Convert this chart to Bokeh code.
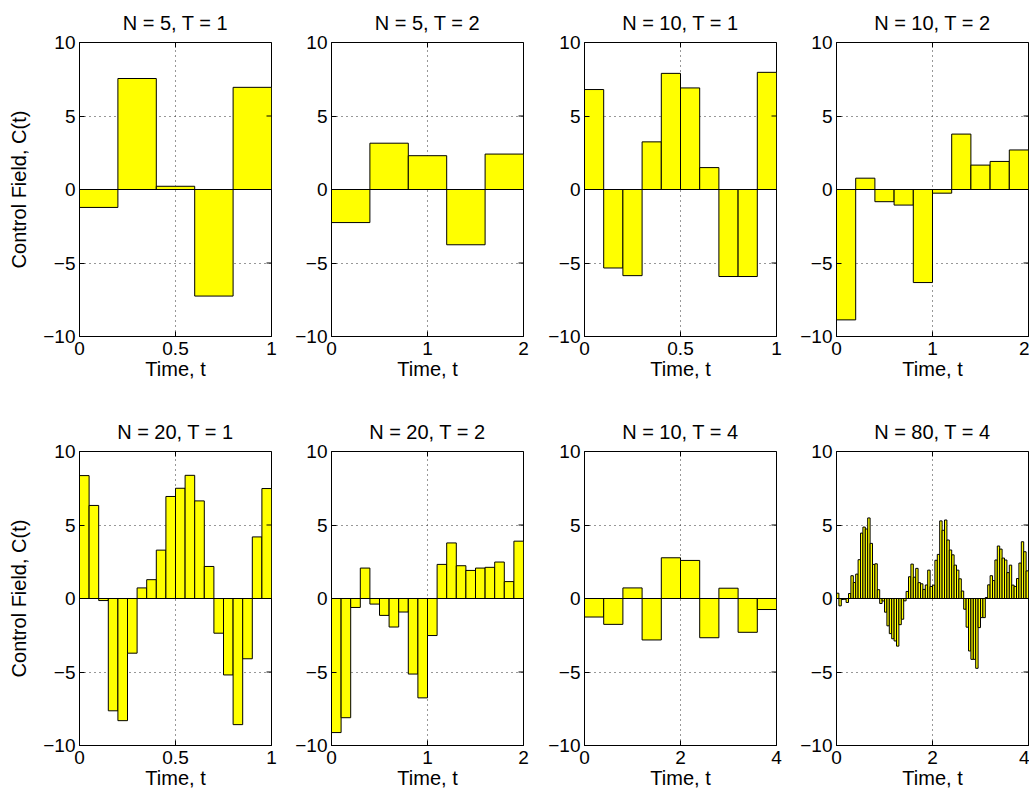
import math
from bokeh.plotting import figure
from bokeh.layouts import gridplot
from bokeh.models import FixedTicker, Span, Range1d
from bokeh.embed import file_html
from bokeh.resources import INLINE

# ---------------- data ----------------
titles = ["N = 5, T = 1", "N = 5, T = 2", "N = 10, T = 1", "N = 10, T = 2",
          "N = 20, T = 1", "N = 20, T = 2", "N = 10, T = 4", "N = 80, T = 4"]
durations = [1, 2, 1, 2, 1, 2, 4, 4]

c_n5_t1 = [-1.22, 7.55, 0.22, -7.25, 6.95]
c_n5_t2 = [-2.25, 3.15, 2.3, -3.76, 2.41]
c_n10_t1 = [6.8, -5.34, -5.86, 3.24, 7.9, 6.91, 1.49, -5.92, -5.92, 7.97]
c_n10_t2 = [-8.87, 0.77, -0.83, -1.06, -6.33, -0.25, 3.77, 1.66, 1.91, 2.69]
c_n20_t1 = [8.36, 6.33, -0.14, -7.64, -8.31, -3.72, 0.72, 1.28, 3.29, 6.94,
            7.5, 8.38, 6.64, 2.18, -2.36, -5.2, -8.58, -4.1, 4.19, 7.48]
c_n20_t2 = [-9.12, -8.11, -0.61, 2.07, -0.38, -1.15, -1.94, -0.92, -5.14, -6.76,
            -2.52, 2.32, 3.78, 2.23, 1.91, 2.07, 2.12, 2.48, 1.15, 3.9]
c_n10_t4 = [-1.26, -1.76, 0.72, -2.82, 2.77, 2.59, -2.67, 0.7, -2.3, -0.75]
c_n80_t4 = [0.36, -0.5, -0.07, -0.05, -0.27, 0.34, 1.55, 1.09, 1.66, 2.64,
            4.45, 4.86, 4.73, 5.48, 3.75, 2.32, 2.36, 0.6, -0.34, -0.17,
            -0.93, -1.86, -2.39, -2.74, -2.89, -3.24, -1.78, -1.41, -0.16, 0.48,
            1.48, 2.34, 1.45, 2.05, 1.08, 1.0, 0.62, 0.92, 1.93, 0.82,
            0.91, 2.6, 3.0, 5.28, 4.64, 5.34, 3.98, 3.3, 2.97, 2.27,
            1.93, 1.34, 0.51, -0.73, -1.95, -3.57, -4.14, -4.14, -4.75, -1.98,
            -1.3, -1.3, 0.07, 0.93, 1.55, 1.22, 2.62, 3.57, 3.36, 2.75,
            2.62, 1.76, 2.27, 0.91, 0.82, 1.36, 2.41, 3.86, 3.18, 1.88]

series = [c_n5_t1, c_n5_t2, c_n10_t1, c_n10_t2,
          c_n20_t1, c_n20_t2, c_n10_t4, c_n80_t4]

y_min, y_max = -10, 10
y_ticks = [-10, -5, 0, 5, 10]
y_tick_labels = {-10: "\u221210", -5: "\u22125", 0: "0", 5: "5", 10: "10"}
x_ticks = {1: [0, 0.5, 1], 2: [0, 1, 2], 4: [0, 2, 4]}
x_tick_labels = {1: {0: "0", 0.5: "0.5", 1: "1"},
                 2: {0: "0", 1: "1", 2: "2"},
                 4: {0: "0", 2: "2", 4: "4"}}
x_label = "Time, t"
y_label = "Control Field, C(t)"

# ---------------- layout / style ----------------
FONT = "Liberation Sans"
TICK_SIZE = "19px"
LABEL_SIZE = "20px"
TITLE_SIZE = "20px"
FRAME_W, FRAME_H = 192, 294
col_left = [79, 50, 51, 50]
col_right = [10, 10, 10, 1]
row_top = [42, 69]
row_bottom = [46, 46]
TICK_LEN = 5

figs = []
for i, (title, T, vals) in enumerate(zip(titles, durations, series)):
    r, c = divmod(i, 4)
    n = len(vals)
    dt = T / n
    centers = [(k + 0.5) * dt for k in range(n)]
    p = figure(frame_width=FRAME_W, frame_height=FRAME_H,
               x_range=Range1d(0, T), y_range=Range1d(y_min, y_max),
               output_backend="svg", toolbar_location=None,
               min_border_left=col_left[c], min_border_right=col_right[c],
               min_border_top=row_top[r], min_border_bottom=row_bottom[r],
               background_fill_color="white", border_fill_color="white")
    p.title.text = title
    p.title.align = "center"
    p.title.text_font = FONT
    p.title.text_font_size = TITLE_SIZE
    p.title.text_font_style = "normal"
    p.title.text_color = "black"
    p.title.standoff = 17

    # grid first so bars lie on top of it
    p.xgrid.ticker = FixedTicker(ticks=x_ticks[T])
    p.ygrid.ticker = FixedTicker(ticks=y_ticks)
    for g in (p.xgrid[0], p.ygrid[0]):
        g.grid_line_color = "#303030"
        g.grid_line_dash = "1 4"
        g.grid_line_width = 1

    p.vbar(x=centers, width=dt, top=vals, bottom=0,
           fill_color="#FFFF00", line_color="black", line_width=1)
    p.add_layout(Span(location=0, dimension="width", line_color="black", line_width=1))

    # inward ticks on the right and top edges of the box (half of each dash is clipped)
    p.scatter(x=[T] * len(y_ticks), y=y_ticks, marker="dash", size=2 * TICK_LEN,
              line_color="black", line_width=1)
    p.scatter(x=x_ticks[T], y=[y_max] * len(x_ticks[T]), marker="dash",
              size=2 * TICK_LEN, angle=math.pi / 2, line_color="black", line_width=1)

    p.outline_line_color = "black"
    p.outline_line_width = 1

    for ax in (p.xaxis[0], p.yaxis[0]):
        ax.major_tick_in = TICK_LEN
        ax.major_tick_out = 0
        ax.minor_tick_line_color = None
        ax.axis_line_color = "black"
        ax.major_tick_line_color = "black"
        ax.major_label_text_font = FONT
        ax.major_label_text_font_size = TICK_SIZE
        ax.major_label_text_color = "black"
        ax.axis_label_text_font = FONT
        ax.axis_label_text_font_size = LABEL_SIZE
        ax.axis_label_text_font_style = "normal"
        ax.axis_label_text_color = "black"

    p.xaxis.ticker = FixedTicker(ticks=x_ticks[T])
    p.xaxis.major_label_overrides = x_tick_labels[T]
    p.xaxis.major_label_standoff = 5
    p.xaxis.axis_label = x_label
    p.xaxis.axis_label_standoff = 0

    p.yaxis.ticker = FixedTicker(ticks=y_ticks)
    p.yaxis.major_label_overrides = y_tick_labels
    p.yaxis.major_label_standoff = 4
    if c == 0:
        p.yaxis.axis_label = y_label
        p.yaxis.axis_label_standoff = 10

    figs.append(p)

grid = gridplot([figs[0:4], figs[4:8]], toolbar_location=None)

open("out.html", "w").write(file_html(grid, INLINE))
